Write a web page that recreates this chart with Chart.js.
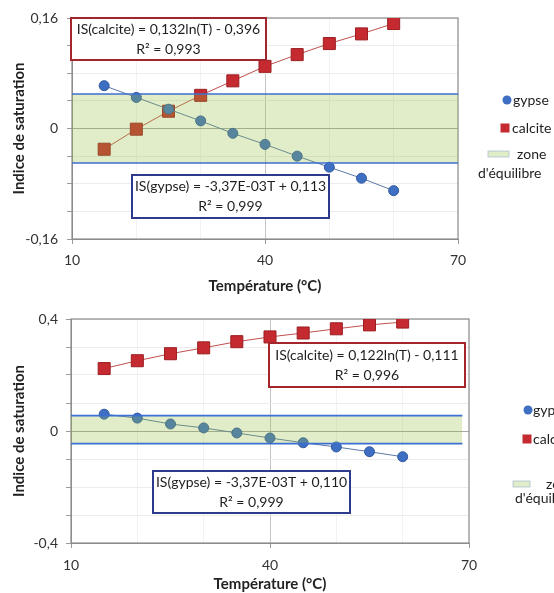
<!DOCTYPE html>
<html>
<head>
<meta charset="utf-8">
<script src="https://cdn.jsdelivr.net/npm/chart.js@4"></script>
<style>
  html, body { margin: 0; padding: 0; background: #fff; overflow: hidden; width: 554px; height: 593px; }
  canvas { position: absolute; left: 0; }
  #chartHaut { top: 0; }
  #chartBas { top: 298px; }
</style>
</head>
<body>
<canvas id="chartHaut" width="554" height="295"></canvas>
<canvas id="chartBas" width="600" height="295"></canvas>
<script>
// Valeurs
const temperatures = [15, 20, 25, 30, 35, 40, 45, 50, 55, 60];

const gypseHaut   = [0.062, 0.045, 0.028, 0.011, -0.007, -0.023, -0.040, -0.056, -0.072, -0.090];
const calciteHaut = [-0.030, -0.001, 0.025, 0.048, 0.069, 0.090, 0.107, 0.123, 0.137, 0.152];

const gypseBas   = [0.060, 0.046, 0.025, 0.011, -0.007, -0.025, -0.042, -0.057, -0.074, -0.092];
const calciteBas = [0.223, 0.251, 0.276, 0.297, 0.319, 0.336, 0.350, 0.365, 0.379, 0.389];

// zone d'équilibre : [limite haute, limite basse]
const zoneHaut = [0.05, -0.05];
const zoneBas  = [0.055, -0.045];
const zoneXHaut = [10, 70];
const zoneXBas  = [10, 69];

const xTicks = [10, 40, 70];
const yTicksHaut = [-0.16, 0, 0.16];
const yTicksBas  = [-0.4, 0, 0.4];

const eqCalciteHaut = ['IS(calcite) = 0,132ln(T) - 0,396', 'R² = 0,993'];
const eqGypseHaut   = ['IS(gypse) = -3,37E-03T + 0,113', 'R² = 0,999'];
const eqCalciteBas  = ['IS(calcite) = 0,122ln(T) - 0,111', 'R² = 0,996'];
const eqGypseBas    = ['IS(gypse) = -3,37E-03T + 0,110', 'R² = 0,999'];

const legendeLabels = ['gypse', 'calcite', 'zone', "d'équilibre"];

const FONT = 'Lato, "Open Sans", sans-serif';
const BLEU = '#3f6fc2';
const ROUGE = '#c42a2f';
const VERT = 'rgba(146,190,60,0.28)';
const TRAIT_ZONE = '#3c6fd2';

const fmt = v => Math.abs(v) < 1e-9 ? '0' : String(+v.toFixed(2)).replace('.', ',');
const pts = (xs, ys) => xs.map((x, i) => ({ x: x, y: ys[i] }));

// cadre gris autour de la zone de tracé
const cadre = {
  id: 'cadre',
  beforeDatasetsDraw(chart) {
    const a = chart.chartArea, ctx = chart.ctx;
    ctx.save();
    ctx.strokeStyle = '#8c8c8c';
    ctx.lineWidth = 1.2;
    ctx.strokeRect(a.left, a.top, a.right - a.left, a.bottom - a.top);
    ctx.restore();
  }
};

// encadrés des équations de régression
const encadres = {
  id: 'encadres',
  afterDatasetsDraw(chart, args, opts) {
    const a = chart.chartArea, ctx = chart.ctx;
    (opts.boites || []).forEach(b => {
      const x = a.left + b.dx, y = a.top + b.dy;
      ctx.save();
      ctx.fillStyle = '#fff';
      ctx.fillRect(x, y, b.w, b.h);
      ctx.strokeStyle = b.couleur;
      ctx.lineWidth = 2;
      ctx.strokeRect(x, y, b.w, b.h);
      ctx.fillStyle = '#1e1e1e';
      ctx.font = '14px ' + FONT;
      ctx.textAlign = 'center';
      ctx.textBaseline = 'middle';
      ctx.fillText(b.texte[0], x + b.w / 2, y + b.h / 2 - 10);
      ctx.fillText(b.texte[1], x + b.w / 2, y + b.h / 2 + 10);
      ctx.restore();
    });
  }
};

// légende à droite
const legende = {
  id: 'legende',
  afterDraw(chart, args, p) {
    if (!p.pos) return;
    const a = chart.chartArea, ctx = chart.ctx;
    const X = a.right, Y = a.top;
    ctx.save();
    ctx.font = '14px ' + FONT;
    ctx.textBaseline = 'middle';
    ctx.textAlign = 'left';
    // gypse
    ctx.beginPath();
    ctx.arc(X + p.pos.gx, Y + p.pos.gy, 4.5, 0, Math.PI * 2);
    ctx.fillStyle = BLEU;
    ctx.fill();
    ctx.fillStyle = '#1e1e1e';
    ctx.fillText(legendeLabels[0], X + p.pos.gtx, Y + p.pos.gy);
    // calcite
    ctx.fillStyle = ROUGE;
    ctx.fillRect(X + p.pos.cx - 4.5, Y + p.pos.cy - 4.5, 9, 9);
    ctx.fillStyle = '#1e1e1e';
    ctx.fillText(legendeLabels[1], X + p.pos.ctx_, Y + p.pos.cy);
    // zone
    ctx.fillStyle = VERT;
    ctx.fillRect(X + p.pos.zx, Y + p.pos.zy - 3, p.pos.zw, 6);
    ctx.strokeStyle = 'rgba(150,175,200,0.6)';
    ctx.lineWidth = 1;
    ctx.strokeRect(X + p.pos.zx, Y + p.pos.zy - 3, p.pos.zw, 6);
    ctx.fillStyle = '#1e1e1e';
    ctx.fillText(legendeLabels[2], X + p.pos.zt1, Y + p.pos.zy);
    ctx.fillText(legendeLabels[3], X + p.pos.zt2, Y + p.pos.zy2);
    ctx.restore();
  }
};

function graphique(id, c) {
  return new Chart(document.getElementById(id), {
    type: 'line',
    data: {
      datasets: [
        {
          label: 'gypse',
          data: pts(temperatures, c.gypse),
          borderColor: '#5a78a8',
          borderWidth: 1,
          pointStyle: 'circle',
          pointRadius: 5,
          pointBackgroundColor: BLEU,
          pointBorderColor: '#30589e',
          pointBorderWidth: 1,
          order: 1
        },
        {
          label: 'calcite',
          data: pts(temperatures, c.calcite),
          borderColor: '#c0504d',
          borderWidth: 1,
          pointStyle: 'rect',
          pointRadius: 8.5,
          pointBackgroundColor: ROUGE,
          pointBorderColor: '#9c1e22',
          pointBorderWidth: 1,
          order: 1
        },
        {
          label: 'zone haut',
          data: c.zoneX.map(x => ({ x: x, y: c.zone[0] })),
          borderColor: TRAIT_ZONE,
          borderWidth: 1.6,
          pointRadius: 0,
          fill: false,
          order: 0
        },
        {
          label: "zone d'équilibre",
          data: c.zoneX.map(x => ({ x: x, y: c.zone[1] })),
          borderColor: TRAIT_ZONE,
          borderWidth: 1.6,
          pointRadius: 0,
          fill: '-1',
          backgroundColor: VERT,
          order: 0
        }
      ]
    },
    options: {
      responsive: false,
      animation: false,
      devicePixelRatio: 1,
      layout: { padding: c.padding },
      plugins: {
        legend: { display: false },
        tooltip: { enabled: false },
        encadres: { boites: c.boites },
        legende: { pos: c.legende }
      },
      scales: {
        x: {
          type: 'linear',
          min: 10, max: 70,
          afterFit: s => { s.height = c.xHauteur; },
          ticks: {
            stepSize: 10,
            autoSkip: false,
            maxRotation: 0,
            padding: c.xPad,
            color: '#333',
            font: { family: FONT, size: 14 },
            callback: v => xTicks.includes(v) ? String(v) : ''
          },
          grid: {
            color: ctx => ctx.tick && ctx.tick.value === 40 ? '#c4c4c4' : '#f2f2f2',
            tickLength: 5,
            tickColor: ctx => ctx.tick && xTicks.includes(ctx.tick.value) ? '#9a9a9a' : 'rgba(0,0,0,0)'
          },
          border: { color: '#8c8c8c' },
          title: {
            display: true,
            text: 'Température (°C)',
            color: '#222',
            padding: 0,
            font: { family: FONT, size: 15, weight: 'bold' }
          }
        },
        y: {
          min: -c.yMax, max: c.yMax,
          afterFit: s => { s.width = c.yLargeur; },
          ticks: {
            stepSize: c.yPas,
            padding: c.yPad,
            color: '#333',
            font: { family: FONT, size: 14 },
            callback: v => c.yTicks.some(t => Math.abs(t - v) < 1e-9) ? fmt(v) : ''
          },
          grid: {
            color: ctx => ctx.tick && Math.abs(ctx.tick.value) < 1e-9 ? '#a8a8a8' : '#ececec',
            tickLength: 5,
            tickColor: '#9a9a9a'
          },
          border: { color: '#8c8c8c' },
          title: {
            display: true,
            text: 'Indice de saturation',
            color: '#222',
            padding: { top: 10, bottom: 0 },
            font: { family: FONT, size: 15, weight: 'bold' }
          }
        }
      }
    },
    plugins: [cadre, encadres, legende]
  });
}

graphique('chartHaut', {
  gypse: gypseHaut, calcite: calciteHaut,
  zone: zoneHaut, zoneX: zoneXHaut,
  yMax: 0.16, yPas: 0.04, yTicks: yTicksHaut,
  padding: { left: 0, top: 18, right: 96, bottom: 0 },
  xHauteur: 56, yLargeur: 72, xPad: 8, yPad: 9,
  boites: [
    { dx: -1, dy: 0, w: 195, h: 42, couleur: '#a3262c', texte: eqCalciteHaut },
    { dx: 60, dy: 157, w: 197, h: 43, couleur: '#2e3a8c', texte: eqGypseHaut }
  ],
  legende: { gx: 49, gtx: 55, gy: 82, cx: 47, ctx_: 54, cy: 110, zx: 30, zw: 21, zy: 136, zt1: 59, zt2: 20, zy2: 155 }
});

graphique('chartBas', {
  gypse: gypseBas, calcite: calciteBas,
  zone: zoneBas, zoneX: zoneXBas,
  yMax: 0.4, yPas: 0.1, yTicks: yTicksBas,
  padding: { left: 0, top: 21, right: 131, bottom: 0 },
  xHauteur: 50, yLargeur: 71, xPad: 9, yPad: 8,
  boites: [
    { dx: 198, dy: 24, w: 196, h: 44, couleur: '#a3262c', texte: eqCalciteBas },
    { dx: 82, dy: 152, w: 197, h: 42, couleur: '#2e3a8c', texte: eqGypseBas }
  ],
  legende: { gx: 59, gtx: 64, gy: 91, cx: 58, ctx_: 64, cy: 120, zx: 44, zw: 17, zy: 165, zt1: 77, zt2: 46, zy2: 179 }
});
</script>
</body>
</html>
